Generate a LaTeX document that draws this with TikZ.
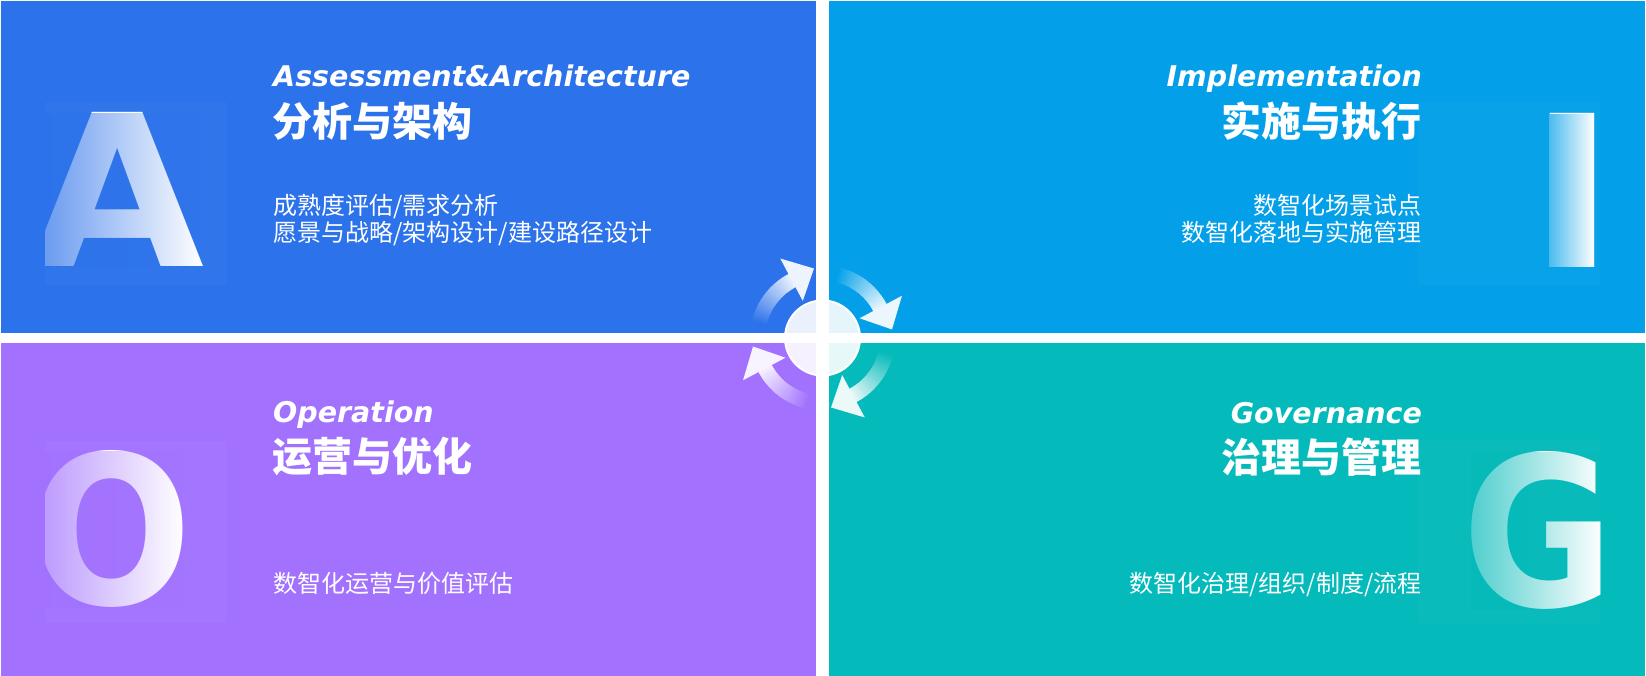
\documentclass[tikz,border=0pt]{standalone}
\usepackage{fontspec}
\usepackage{graphicx}
\usetikzlibrary{fadings}
\setmainfont{Noto Sans CJK SC}
\newfontfamily\enfont{DejaVu Sans}
\newfontfamily\letterfont{DejaVu Sans}

\definecolor{quadA}{HTML}{2C72EA}
\definecolor{quadI}{HTML}{03A0E9}
\definecolor{quadO}{HTML}{A272FE}
\definecolor{quadG}{HTML}{05BABA}

\tikzfading[name=letterfade, left color=transparent!30,
  middle color=transparent!80, right color=transparent!100]

\tikzset{entitle/.style={text=white, inner sep=0pt,
           font=\enfont\bfseries\itshape\fontsize{28.5}{34}\selectfont},
         cntitle/.style={text=white, inner sep=0pt,
           font=\bfseries\fontsize{40}{48}\selectfont},
         bodytext/.style={text=white, inner sep=0pt,
           font=\fontsize{24}{28}\selectfont},
         bigletter/.style={text=white, inner sep=0pt, anchor=south west,
           font=\letterfont\bfseries},
         letterbox/.style={fill=white, opacity=0.025}}

% one turning arrow of the cycle, drawn round the hub over a quadrant colour
\newcommand\cyclearrow[2]{%
  \begin{scope}[shift={(hub)}]
    \foreach \k in {0,...,24}{
      \pgfmathtruncatemacro\mixp{88*\k/24}
      \draw[white!\mixp!#2, line width=15pt]
        (168+#1-2*\k:65) arc[start angle=168+#1-2*\k, delta angle=-2.6, radius=65];
    }
    \fill[white!92!#2] (118+#1:42) -- (118+#1:90) -- (97+#1:70) -- cycle;
  \end{scope}}

\begin{document}
\begin{tikzpicture}[x=1pt, y=1pt]
  \fill[white] (0,0) rectangle (1646,676);
  \useasboundingbox (0,0) rectangle (1646,676);

  % quadrants
  \fill[quadA] (1,343) rectangle (816,675);
  \fill[quadI] (829,343) rectangle (1645,675);
  \fill[quadO] (1,0) rectangle (816,333);
  \fill[quadG] (829,0) rectangle (1645,333);

  % big letters
  \fill[letterbox] (45,391) rectangle (227,574);
  \begin{scope}
    \clip (45,391) rectangle (227,574);
    \node[bigletter] (letA) at (30,409) {\resizebox*{174pt}{154pt}{A}};
    \fill[quadA, path fading=letterfade] (45,409) rectangle (202,563);
  \end{scope}
  \fill[letterbox] (1418,391) rectangle (1600,574);
  \begin{scope}
    \clip (1418,391) rectangle (1600,574);
    \node[bigletter] (letI) at (1528,408) {\resizebox*{88pt}{154pt}{I}};
    \fill[quadI, path fading=letterfade] (1550,408) rectangle (1594,562);
  \end{scope}
  \fill[letterbox] (45,53) rectangle (227,235);
  \begin{scope}
    \clip (45,53) rectangle (227,235);
    \node[bigletter] (letO) at (30,68) {\resizebox*{162pt}{157pt}{O}};
    \fill[quadO, path fading=letterfade] (45,68) rectangle (183,225);
  \end{scope}
  \fill[letterbox] (1418,53) rectangle (1600,235);
  \begin{scope}
    \clip (1418,53) rectangle (1600,235);
    \node[bigletter] (letG) at (1462,66) {\resizebox*{152pt}{158pt}{G}};
    \fill[quadG, path fading=letterfade] (1471,66) rectangle (1602,224);
  \end{scope}

  % texts
  \node[entitle, anchor=base west] (aEn) at (273,589) {Assessment\&Architecture};
  \node[cntitle, anchor=base west] (aCn) at (272,539) {分析与架构};
  \node[bodytext, anchor=base west] (aBody1) at (273,461) {成熟度评估/需求分析};
  \node[bodytext, anchor=base west] (aBody2) at (273,434) {愿景与战略/架构设计/建设路径设计};

  \node[entitle, anchor=base east] (iEn) at (1422,589) {Implementation};
  \node[cntitle, anchor=base east] (iCn) at (1422,539) {实施与执行};
  \node[bodytext, anchor=base east] (iBody1) at (1422,461) {数智化场景试点};
  \node[bodytext, anchor=base east] (iBody2) at (1422,434) {数智化落地与实施管理};

  \node[entitle, anchor=base west] (oEn) at (273,253) {Operation};
  \node[cntitle, anchor=base west] (oCn) at (272,204) {运营与优化};
  \node[bodytext, anchor=base west] (oBody) at (273,83) {数智化运营与价值评估};

  \node[entitle, anchor=base east] (gEn) at (1422,252) {Governance};
  \node[cntitle, anchor=base east] (gCn) at (1422,203) {治理与管理};
  \node[bodytext, anchor=base east] (gBody) at (1422,83) {数智化治理/组织/制度/流程};

  % cycle in the middle
  \coordinate (hub) at (822.5,338);
  \cyclearrow{0}{quadA}
  \cyclearrow{-90}{quadI}
  \cyclearrow{-180}{quadG}
  \cyclearrow{90}{quadO}
  \node[circle, minimum size=75pt, inner sep=0pt, fill=white, fill opacity=0.9,
        draw=white, line width=2pt] (hubdisc) at (hub) {};
\end{tikzpicture}
\end{document}
